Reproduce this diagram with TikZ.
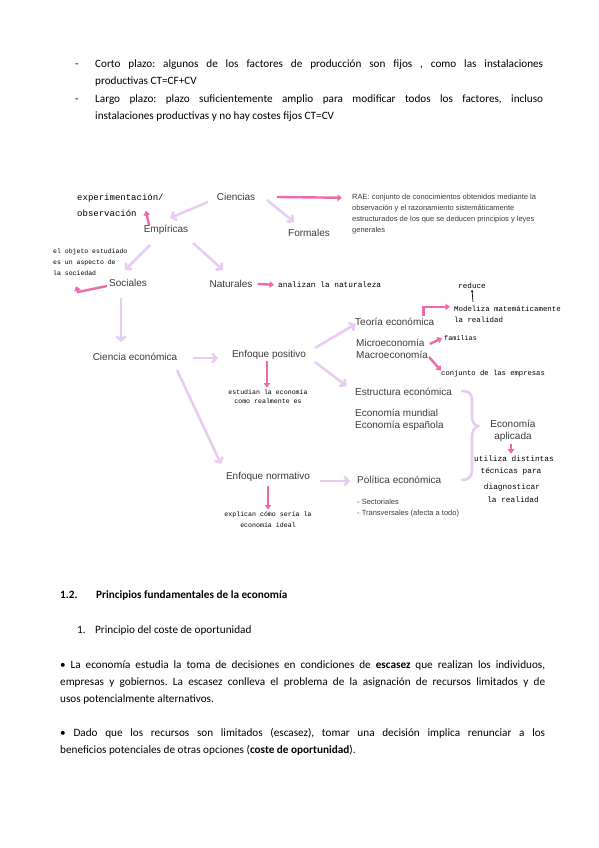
\documentclass[tikz,border=0pt]{standalone}
\usepackage{fontspec}
\setmainfont{Carlito}
\newfontfamily\arialf{Liberation Sans}
\newfontfamily\handf{Liberation Mono}
\usetikzlibrary{arrows.meta}
\definecolor{lavc}{HTML}{E8CCF4}
\definecolor{pinkc}{HTML}{EE6AAA}
\definecolor{labc}{HTML}{3C3C3C}
\frenchspacing
\begin{document}
\begin{tikzpicture}[x=1pt,y=-1pt,
  body/.style={anchor=base west, inner sep=0pt, font=\fontsize{11.2}{13}\selectfont},
  lbl/.style={font=\arialf\fontsize{10}{12}\selectfont, text=labc, inner sep=1pt},
  sml/.style={anchor=base west, font=\arialf\fontsize{7.5}{11}\selectfont, text=labc, inner sep=1pt},
  hand/.style={font=\handf\fontsize{#1}{11}\selectfont, inner sep=1pt},
  hand/.default=7.4,
  lav/.style={draw=lavc, line width=2.6pt, -{Straight Barb[length=4pt,width=9pt]}},
  pk/.style={draw=pinkc, line width=2.4pt, -{Triangle[length=4.5pt,width=6.5pt]}},
]
\useasboundingbox (0,0) rectangle (599,848);
\fill[white] (0,0) rectangle (599,848);

% ---------- top text ----------
\node[body] (d1) at (75,67.5) {-};
\node[body] (t1) at (95,67.5) {\makebox[448pt][s]{Corto plazo: algunos de los factores de producción son fijos , como las instalaciones}};
\node[body] (t2) at (95,84.5) {productivas CT=CF+CV};
\node[body] (d2) at (75,102.5) {-};
\node[body] (t3) at (95,102.5) {\makebox[448pt][s]{Largo plazo: plazo suficientemente amplio para modificar todos los factores, incluso}};
\node[body] (t4) at (95,119.5) {instalaciones productivas y no hay costes fijos CT=CV};

% ---------- diagram labels ----------
\node[lbl] (ciencias) at (236,197) {Ciencias};
\node[lbl] (empiricas) at (166,230) {Empíricas};
\node[lbl] (formales) at (309,233) {Formales};
\node[lbl] (sociales) at (128,283) {Sociales};
\node[lbl] (naturales) at (231,284) {Naturales};
\node[lbl] (cienciaeco) at (135,357) {Ciencia económica};
\node[lbl] (positivo) at (269,355) {Enfoque positivo};
\node[lbl] (normativo) at (268,477) {Enfoque normativo};
\node[lbl,anchor=west] (teoria) at (354,322) {Teoría económica};
\node[lbl,anchor=west] (micro) at (355,343) {Microeconomía};
\node[lbl,anchor=west] (macro) at (355,355) {Macroeconomía};
\node[lbl,anchor=west] (estructura) at (354,392) {Estructura económica};
\node[lbl,anchor=west] (mundial) at (354,413) {Economía mundial};
\node[lbl,anchor=west] (espanola) at (354,426) {Economía española};
\node[lbl] (aplic1) at (513,424) {Economía};
\node[lbl] (aplic2) at (513,437) {aplicada};
\node[lbl,anchor=west] (politica) at (356,480) {Política económica};
\node[sml] (sect) at (356,504.7) {- Sectoriales};
\node[sml] (trans) at (356,515.7) {- Transversales (afecta a todo)};

\node[sml] (rae1) at (351,199.7) {RAE: conjunto de conocimientos obtenidos mediante la};
\node[sml] (rae2) at (351,210.7) {observación y el razonamiento sistemáticamente};
\node[sml] (rae3) at (351,221.7) {estructurados de los que se deducen principios y leyes};
\node[sml] (rae4) at (351,232.7) {generales};

% ---------- handwritten notes ----------
\node[hand=9,anchor=base west] (exper) at (76,200) {experimentación/};
\node[hand=9,anchor=base west] (obs) at (76,216) {observación};
\node[hand=6.5,anchor=base west] (soc1) at (52,253.5) {el objeto estudiado};
\node[hand=6.5,anchor=base west] (soc2) at (52,264.5) {es un aspecto de};
\node[hand=6.5,anchor=base west] (soc3) at (52,275.5) {la sociedad};
\node[hand=7.8,anchor=base west] (natu) at (277,287.5) {analizan la naturaleza};
\node[hand=7.6,anchor=base] (reduce) at (472,288.5) {reduce};
\node[hand=7.4,anchor=base west] (model1) at (453,311.5) {Modeliza matemáticamente};
\node[hand=7.4,anchor=base west] (model2) at (453,322.5) {la realidad};
\node[hand=6.8,anchor=base west] (famil) at (443,340.5) {familias};
\node[hand=7.2,anchor=base west] (empres) at (440,375.5) {conjunto de las empresas};
\node[hand=6.6,anchor=base] (pos1) at (268,394.5) {estudian la economía};
\node[hand=6.6,anchor=base] (pos2) at (268,403.5) {como realmente es};
\node[hand=6.6,anchor=base] (nor1) at (268,516.5) {explican cómo sería la};
\node[hand=6.6,anchor=base] (nor2) at (268,527.5) {economía ideal};
\node[hand=7.8,anchor=base] (util1) at (514,461.5) {utiliza distintas};
\node[hand=7.8,anchor=base] (util2) at (511,473.5) {técnicas para};
\node[hand=7.8,anchor=base] (util3) at (512,489.5) {diagnosticar};
\node[hand=7.8,anchor=base] (util4) at (513,502.5) {la realidad};

% ---------- lavender connectors ----------
\draw[lav] ([shift={(-28,5)}]ciencias.center) -- ([shift={(4,-12)}]empiricas.center);
\draw[lav] ([shift={(31,3)}]ciencias.center) -- ([shift={(-15,-11)}]formales.center);
\draw[lav] ([shift={(-16,15)}]empiricas.center) -- ([shift={(-3,-13)}]sociales.center);
\draw[lav] ([shift={(27,13)}]empiricas.center) -- ([shift={(-8,-14)}]naturales.center);
\draw[lav] ([shift={(-7,15)}]sociales.center) -- ([shift={(-14,-15)}]cienciaeco.center);
\draw[lav] ([shift={(58,1)}]cienciaeco.center) -- ([shift={(-51,3)}]positivo.center);
\draw[lav] ([shift={(42,13)}]cienciaeco.center) -- ([shift={(-47,-13)}]normativo.center);
\draw[lav] ([shift={(46,-7)}]positivo.center) -- ([shift={(-39,2)}]teoria.center);
\draw[lav] ([shift={(46,7)}]positivo.center) -- ([shift={(-57,-6)}]estructura.center);
\draw[lav] ([shift={(52,4)}]normativo.center) -- ([shift={(-6,1)}]politica.west);
% brace
\draw[draw=lavc, line width=2.6pt, line cap=round]
  (462,391) .. controls (468,391) and (472,393) .. (472,400) -- (472,416)
  .. controls (472,422) and (474,425) .. (478,426)
  .. controls (474,428) and (472,431) .. (472,437) -- (472,470)
  .. controls (472,477) and (468,480) .. (462,480);

% ---------- pink connectors ----------
\draw[pk] ([shift={(41,0)}]ciencias.center) -- ([shift={(-9,0)}]rae1.west);
\draw[pk] ([shift={(-17,-5)}]empiricas.center) -- ([shift={(8,-2)}]obs.east);
\draw[pk] ([shift={(-21,3)}]sociales.center) -- ++(-29,6) -- ([shift={(24,13)}]soc3.west);
\draw[pk] ([shift={(4,0)}]naturales.east) -- ([shift={(-3,0)}]natu.west);
\draw[pk] ([shift={(29,-6)}]teoria.center) |- ([shift={(-3,-2)}]model1.west);
\draw[line width=0.7pt, -{Stealth[length=2.5pt,width=2.5pt]}] ([shift={(1,-3)}]model1.north west -| reduce.south) -- (reduce.south);
\draw[pk] ([shift={(4,1)}]micro.east) -- ([shift={(-1,0)}]famil.west);
\draw[pk] ([shift={(0,2)}]macro.east) -- ([shift={(1,-3)}]empres.west);
\draw[pk] ([shift={(-2,0)}]positivo.south) -- ([shift={(-1,-1)}]pos1.north);
\draw[pk] ([shift={(-2,1)}]aplic2.south) -- ([shift={(-3,-1)}]util1.north);
\draw[pk] ([shift={(0,3)}]normativo.south) -- ([shift={(0,-1)}]nor1.north);

% ---------- bottom text ----------
\node[body,font=\fontsize{11.2}{13}\selectfont\bfseries] (h1a) at (60,598.5) {1.2.};
\node[body,font=\fontsize{11.2}{13}\selectfont\bfseries] (h1b) at (96,598.5) {Principios fundamentales de la economía};
\node[body] (h2a) at (77,633.5) {1.};
\node[body] (h2b) at (95,633.5) {Principio del coste de oportunidad};
\node[body] (p1) at (60,668.5) {\makebox[485pt][s]{• La economía estudia la toma de decisiones en condiciones de \textbf{escasez} que realizan los individuos,}};
\node[body] (p2) at (60,685.5) {\makebox[485pt][s]{empresas y gobiernos. La escasez conlleva el problema de la asignación de recursos limitados y de}};
\node[body] (p3) at (60,702.5) {usos potencialmente alternativos.};
\node[body] (p4) at (60,736.5) {\makebox[485pt][s]{• Dado que los recursos son limitados (escasez), tomar una decisión implica renunciar a los}};
\node[body] (p5) at (60,753.5) {beneficios potenciales de otras opciones (\textbf{coste de oportunidad}).};
\end{tikzpicture}
\end{document}
